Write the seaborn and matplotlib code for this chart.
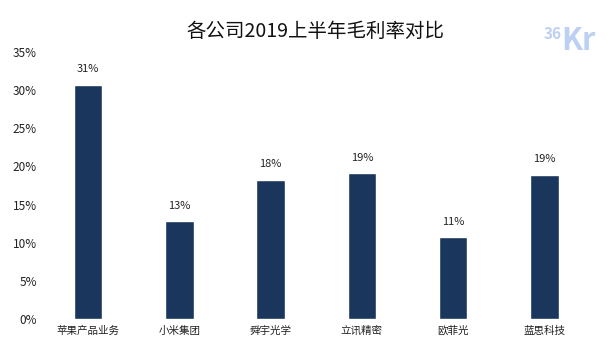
import matplotlib
matplotlib.use('Agg')
import matplotlib.pyplot as plt
import seaborn as sns
import pandas as pd
from matplotlib.ticker import FuncFormatter

companies = ['苹果产品业务', '小米集团', '舜宇光学', '立讯精密', '欧菲光', '蓝思科技']
margins = [30.7, 12.8, 18.2, 19.1, 10.7, 18.9]
labels = ['31%', '13%', '18%', '19%', '11%', '19%']

sns.set_style('white')
plt.rcParams['font.family'] = ['Noto Sans CJK SC', 'DejaVu Sans']

df = pd.DataFrame({'company': companies, 'margin': margins})

fig = plt.figure(figsize=(6.07, 3.54), dpi=100)
ax = fig.add_axes([0.07, 0.099, 0.902, 0.754])
sns.barplot(data=df, x='company', y='margin', color='#1b365d', width=0.31,
            saturation=1, ax=ax)

for i, (v, t) in enumerate(zip(margins, labels)):
    ax.text(i, v + 1.4, t, ha='center', va='bottom', fontsize=8, color='#222222')

ax.set_ylim(0, 35)
ax.set_yticks(range(0, 36, 5))
ax.yaxis.set_major_formatter(FuncFormatter(lambda v, p: f'{v:.0f}%'))
ax.set_xlabel('')
ax.set_ylabel('')
ax.tick_params(axis='y', labelsize=8.5, length=0, colors='#222222', pad=4)
ax.tick_params(axis='x', labelsize=7.6, length=0, colors='#222222', pad=5)
for s in ax.spines.values():
    s.set_visible(False)

fig.text(0.52, 0.912, '各公司2019上半年毛利率对比', ha='center', va='center',
         fontsize=14, color='#111111')
fig.text(0.895, 0.905, '36', ha='left', va='center', fontsize=11,
         color='#bcd0f3', fontweight='bold')
fig.text(0.925, 0.885, 'Kr', ha='left', va='center', fontsize=22,
         color='#bcd0f3', fontweight='bold')

fig.savefig('out.png', dpi=100)
